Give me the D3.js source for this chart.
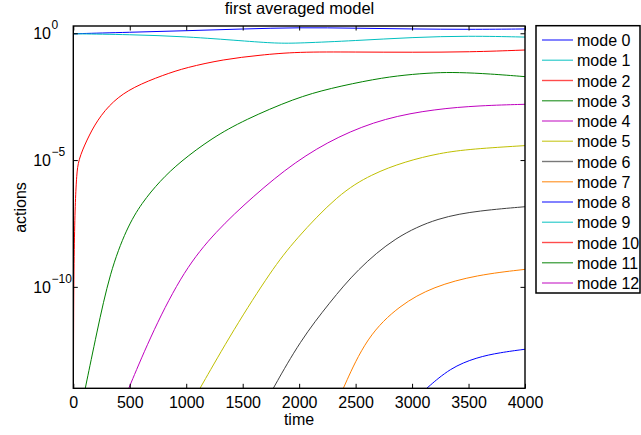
<!DOCTYPE html>
<html><head><meta charset="utf-8">
<script src="https://cdn.jsdelivr.net/npm/d3@7"></script>
<style>
html,body{margin:0;padding:0;background:#fff;}
svg{display:block;font-family:"Liberation Sans",Arial,Helvetica,sans-serif;}
</style></head>
<body><svg id="c" width="641" height="435"></svg>
<script>
// time axis ticks
const xTicks = [0,500,1000,1500,2000,2500,3000,3500,4000];
// y ticks (powers of ten) and their exponents
const yTickExp = [0,-5,-10];
const modeNames = ["mode 0","mode 1","mode 2","mode 3","mode 4","mode 5","mode 6","mode 7","mode 8","mode 9","mode 10","mode 11","mode 12"];
const modeColors = ["#0000ff","#00bfbf","#ff0000","#008000","#bf00bf","#bfbf00","#404040","#ff8000","#0000ff","#00bfbf","#ff0000","#008000","#bf00bf"];
// each series: [time, log10(action)]
const mode0 = [[0,-0.02],[500,0.04],[1000,0.10],[1500,0.17],[2000,0.23],[2500,0.2],[3000,0.17],[3500,0.15],[4000,0.17]];
const mode1 = [[0,-0.02],[500,-0.05],[1000,-0.13],[1500,-0.3],[1800,-0.4],[2000,-0.39],[2500,-0.29],[3000,-0.16],[3500,-0.1],[4000,-0.15]];
const mode2 = [[1,-14.6],[3,-10.5],[9,-8.15],[18,-6.57],[30,-5.59],[44,-5.0],[119,-4.21],[212,-3.42],[350,-2.67],[529,-2.12],[800,-1.64],[1000,-1.35],[1328,-1.03],[1653,-0.86],[1981,-0.73],[2500,-0.74],[3000,-0.75],[3513,-0.74],[4000,-0.66]];
const mode3 = [[106,-14.0],[207,-11.82],[325,-9.41],[473,-7.68],[606,-6.69],[768,-5.82],[945,-5.07],[1228,-4.13],[1514,-3.42],[1963,-2.56],[2273,-2.17],[2672,-1.80],[2937,-1.64],[3203,-1.55],[3407,-1.54],[3690,-1.60],[4000,-1.71]];
const mode4 = [[491,-14.0],[708,-11.70],[983,-9.33],[1255,-7.84],[1594,-6.42],[1963,-5.06],[2347,-4.05],[2760,-3.34],[3203,-2.99],[3602,-2.85],[4000,-2.80]];
const mode5 = [[1122,-14.0],[1417,-11.70],[1757,-9.33],[1963,-8.15],[2347,-6.34],[2643,-5.55],[2937,-5.06],[3247,-4.72],[3528,-4.56],[4000,-4.43]];
const mode6 = [[1771,-14.0],[2008,-12.13],[2273,-10.60],[2512,-9.33],[2849,-8.03],[3232,-7.26],[3602,-6.99],[4000,-6.84]];
const mode7 = [[2391,-14.0],[2598,-11.96],[2893,-10.71],[3188,-9.99],[3572,-9.53],[4000,-9.31]];
const mode8 = [[3130,-14.0],[3336,-13.20],[3572,-12.78],[3780,-12.59],[4000,-12.46]];
// modes 9-12 stay below the plotted range
const mode9 = [], mode10 = [], mode11 = [], mode12 = [];
const series = [mode0,mode1,mode2,mode3,mode4,mode5,mode6,mode7,mode8,mode9,mode10,mode11,mode12];

const svg = d3.select("#c");
const L = 73.3, R = 525, T = 26, B = 388.3;
const x = d3.scaleLinear().domain([0,4000]).range([L,R]);
const y = d3.scaleLog().domain([1e-14, Math.pow(10,0.287)]).range([B,T]);

svg.append("defs").append("clipPath").attr("id","pc")
  .append("rect").attr("x",L).attr("y",T).attr("width",R-L).attr("height",B-T);

const line = d3.line().x(d=>x(d[0])).y(d=>y(Math.pow(10,d[1]))).curve(d3.curveBasis);
const g = svg.append("g").attr("clip-path","url(#pc)");
series.forEach((s,i)=>{
  if(!s.length) return;
  g.append("path").attr("d",line(s)).attr("fill","none")
   .attr("stroke",modeColors[i]).attr("stroke-width",1);
});

// axes
const tk = 4.5;
const xb = svg.append("g").attr("transform",`translate(0,${B})`)
  .call(d3.axisBottom(x).tickValues(xTicks).tickSizeInner(-tk).tickSizeOuter(0).tickPadding(8.5).tickFormat(d3.format("d")));
const xt = svg.append("g").attr("transform",`translate(0,${T})`)
  .call(d3.axisTop(x).tickValues(xTicks).tickSizeInner(-tk).tickSizeOuter(0).tickFormat(""));
const yl = svg.append("g").attr("transform",`translate(${L},0)`)
  .call(d3.axisLeft(y).tickValues(yTickExp.map(e=>Math.pow(10,e))).tickSizeInner(-tk).tickSizeOuter(0).tickFormat(""));
const yr = svg.append("g").attr("transform",`translate(${R},0)`)
  .call(d3.axisRight(y).tickValues(yTickExp.map(e=>Math.pow(10,e))).tickSizeInner(-tk).tickSizeOuter(0).tickFormat(""));
[xb,xt,yl,yr].forEach(a=>{
  a.select(".domain").remove();
  a.selectAll("line").attr("stroke","#000").attr("stroke-width",1);
  a.selectAll("text").attr("font-size",16).attr("font-family","Liberation Sans, Arial, sans-serif").attr("fill","#000");
});
svg.append("rect").attr("x",L).attr("y",T).attr("width",R-L).attr("height",B-T)
  .attr("fill","none").attr("stroke","#000").attr("stroke-width",1.4);

// y tick labels 10^e
const yLab = svg.append("g");
yTickExp.forEach(e=>{
  const yy = y(Math.pow(10,e));
  yLab.append("text").attr("x",51).attr("y",yy+6).attr("text-anchor","end")
    .attr("font-size",16).text("10");
  yLab.append("text").attr("x",51.5).attr("y",yy-4).attr("font-size",12)
    .text(e===0?"0":"\u2212"+Math.abs(e));
});

// title and labels
svg.append("text").attr("x",299.5).attr("y",14).attr("text-anchor","middle").attr("font-size",16.5).text("first averaged model");
svg.append("text").attr("x",299).attr("y",425).attr("text-anchor","middle").attr("font-size",16).text("time");
svg.append("text").attr("transform","translate(25.5,207.5) rotate(-90)").attr("text-anchor","middle").attr("font-size",16).text("actions");

// legend
const lg = svg.append("g");
lg.append("rect").attr("x",536).attr("y",25.7).attr("width",104).attr("height",267.3)
  .attr("fill","#fff").attr("stroke","#000").attr("stroke-width",1.5);
modeNames.forEach((n,i)=>{
  const yy = 40 + 20.25*i;
  lg.append("line").attr("x1",542).attr("x2",573).attr("y1",yy).attr("y2",yy)
    .attr("stroke",modeColors[i]).attr("stroke-width",1.4).attr("stroke-opacity",0.7);
  lg.append("text").attr("x",577).attr("y",yy+6).attr("font-size",16).text(n);
});
</script></body></html>
